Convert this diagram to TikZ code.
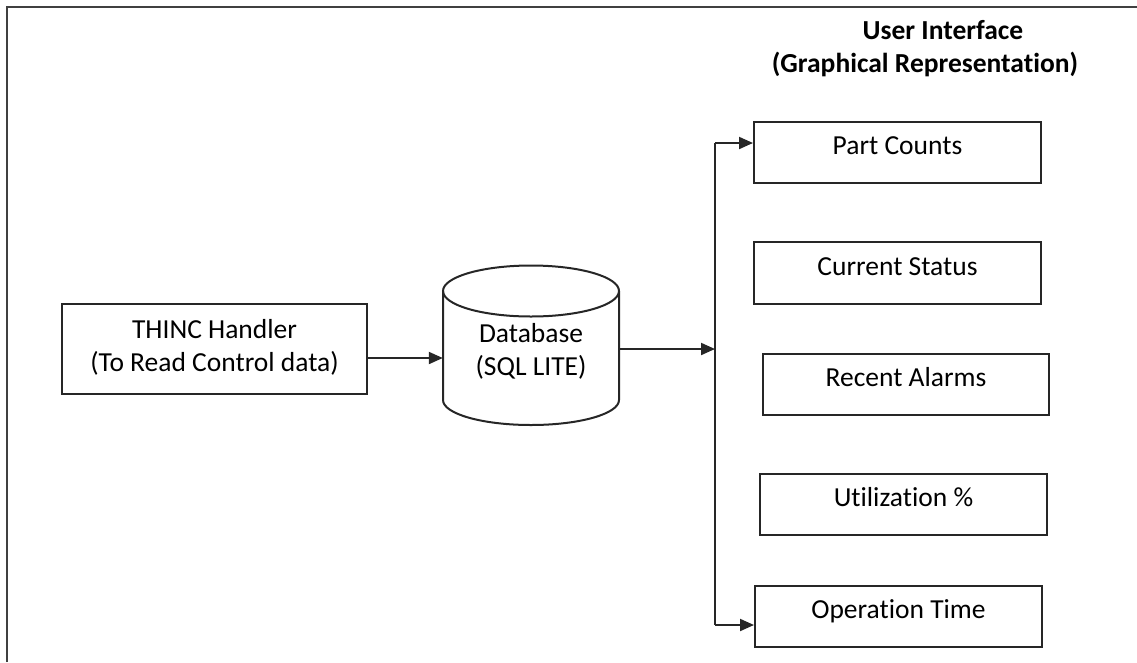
\documentclass[tikz,border=0pt]{standalone}
\usepackage{fontspec}
\setmainfont{Carlito}[Ligatures=NoCommon]
\usetikzlibrary{arrows.meta}
\begin{document}
\begin{tikzpicture}[x=1pt,y=-1pt,
  ln/.style={line width=2pt,draw=black!85},
  arr/.style={ln,-{Triangle[length=14pt,width=12pt]}},
  uibox/.style={ln,rectangle,inner sep=0pt,minimum width=287pt,text height=32pt,text depth=29pt,anchor=north west,font=\fontsize{27.5}{33}\selectfont},
  lbl/.style={inner sep=0pt,align=center,font=\fontsize{27.5}{33}\selectfont}]
\useasboundingbox (0,0) rectangle (1137,662);
% frame
\draw[line width=2.6pt,draw=black!75] (7,662) -- (7,7) -- (1137,7);
% title
\node[lbl,font=\bfseries\fontsize{27.5}{33}\selectfont] (ui1) at (943,30) {User Interface};
\node[lbl,font=\bfseries\fontsize{27.5}{33}\selectfont] (ui2) at (925,64) {(Graphical Representation)};
% THINC handler
\node[ln,draw,lbl,minimum width=305pt,minimum height=90pt] (thinc) at (214.5,349) {THINC Handler\\(To Read Control data)\\[-26pt]};
% database cylinder
\node[lbl,minimum width=176pt,minimum height=100pt] (db) at (531,351.5) {Database\\(SQL LITE)};
\draw[ln] (443,291) -- (443,400) arc[start angle=180,end angle=360,x radius=88pt,y radius=25pt] -- (619,291);
\draw[ln] (531,291) ellipse[x radius=88pt,y radius=25.5pt];
% UI boxes
\node[uibox,draw] (pc) at (753,121) {Part Counts};
\node[uibox,draw,text height=33pt] (cs) at (753,241) {Current Status};
\node[uibox,draw,minimum width=286pt] (ra) at (762,353) {Recent Alarms};
\node[uibox,draw] (ut) at (759,473) {Utilization \%};
\node[uibox,draw] (ot) at (754,585) {Operation Time};
% bus
\coordinate (bt) at (715,143);
\coordinate (bm) at (715,349);
\coordinate (bb) at (715,625);
\draw[ln] (bt) -- (bb);
\draw[arr] (thinc.east |- 0,358) -- (db.west |- 0,358);
\draw[arr] (db.east |- bm) -- (bm);
\draw[arr] (bt) -- (pc.west |- bt);
\draw[arr] (bb) -- (ot.west |- bb);
\end{tikzpicture}
\end{document}
